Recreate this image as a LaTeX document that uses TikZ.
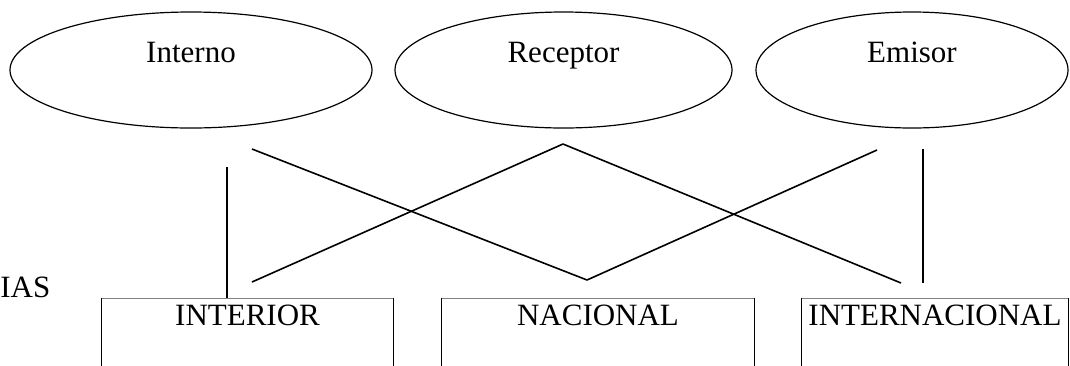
\documentclass[tikz,border=0pt]{standalone}
\usepackage{fontspec}
\setmainfont{Liberation Serif}
\usetikzlibrary{shapes.geometric}

\begin{document}
\begin{tikzpicture}[x=0.5pt,y=-0.5pt]
  \useasboundingbox (0,0) rectangle (1070,365);
  \begin{scope}[
    every node/.style={
      draw,
      ellipse,
      line width=0.6pt,
      minimum height=58pt,
      inner sep=0pt,
      text height=11pt,
      text depth=19pt,
      font=\fontsize{15.5}{18}\selectfont,
    },
    ]
    \node[minimum width=181pt]   (interno)  at (191,70)   {Interno};
    \node[minimum width=168.5pt] (receptor) at (563.5,70) {Receptor};
    \node[minimum width=156pt]   (emisor)   at (912,70)   {Emisor};
  \end{scope}
  \begin{scope}[
    every node/.style={
      rectangle,
      anchor=north,
      inner xsep=2pt,
      inner ysep=2.5pt,
      text height=11pt,
      text depth=28pt,
      font=\fontsize{15.5}{18}\selectfont,
    },
    ]
    \node[minimum width=145.5pt] (interior)      at (247.5,298) {INTERIOR};
    \node[minimum width=156pt]   (nacional)      at (598,298)   {NACIONAL};
    \node[minimum width=133pt]   (internacional) at (935,298)   {INTERNACIONAL};
  \end{scope}
  \node[anchor=base west,inner sep=0pt,font=\fontsize{15.5}{18}\selectfont]
    (ias) at (0,297) {IAS};
  % box borders, open at the bottom
  \begin{scope}[every path/.style={draw,black!50,line width=0.5pt}]
    \path
    (interior.north west)      -- (interior.north east)
    (nacional.north west)      -- (nacional.north east)
    (internacional.north west) -- (internacional.north east);
  \end{scope}
  \begin{scope}[every path/.style={draw,line width=0.8pt}]
    \path
    (interior.south west)      -- (interior.north west)
    (interior.south east)      -- (interior.north east)
    (nacional.south west)      -- (nacional.north west)
    (nacional.south east)      -- (nacional.north east)
    (internacional.south west) -- (internacional.north west)
    (internacional.south east) -- (internacional.north east);
  \end{scope}
  % connector ends
  \coordinate (interno-v)       at (227,167);
  \coordinate (interno-d)       at (252,149);
  \coordinate (receptor-p)      at (563,144);
  \coordinate (emisor-d)        at (877,150);
  \coordinate (emisor-v)        at (923,149);
  \coordinate (v-interior)      at (252,282);
  \coordinate (v-nacional)      at (587,280);
  \coordinate (v-internacional) at (901,283);
  \coordinate (emisor-vb)       at (923,283);
  \begin{scope}[every path/.style={draw,line width=0.8pt}]
    \path
    (interno-v)  edge (interno-v |- interior.north)
    (interno-d)  edge (v-nacional)
    (receptor-p) edge (v-interior)
    (receptor-p) edge (v-internacional)
    (emisor-d)   edge (v-nacional)
    (emisor-v)   edge (emisor-vb);
  \end{scope}
\end{tikzpicture}
\end{document}
